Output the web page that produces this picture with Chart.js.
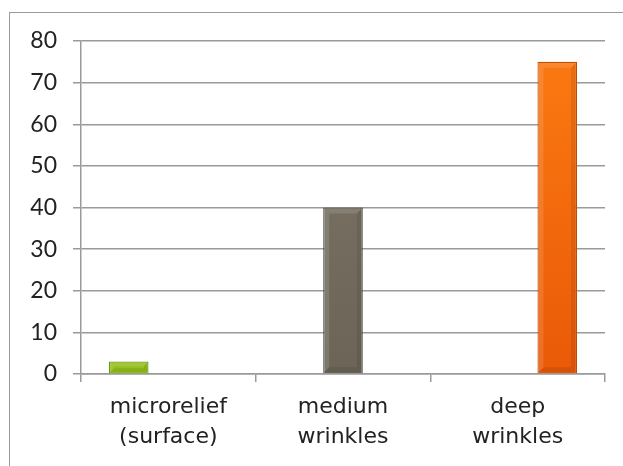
<!DOCTYPE html>
<html>
<head>
<meta charset="utf-8">
<script src="https://cdn.jsdelivr.net/npm/chart.js@4/dist/chart.umd.min.js"></script>
<style>
  html, body { margin: 0; padding: 0; background: #fff; }
  #frame {
    position: absolute; left: 9px; top: 12px; width: 640px; height: 480px;
    border-left: 1.5px solid #9a9a9a; border-top: 1.5px solid #9a9a9a;
  }
  #wrap { position: absolute; left: 0; top: 0; width: 623px; height: 466px; }
</style>
</head>
<body>
<div id="frame"></div>
<div id="wrap"><canvas id="wrinkleChart"></canvas></div>
<script>
  // values
  var categories = [["microrelief", "(surface)"], ["medium", "wrinkles"], ["deep", "wrinkles"]];
  var microrelief = [3, null, null];
  var medium = [null, 40, null];
  var deep = [null, null, 75];
  var yTicks = [0, 10, 20, 30, 40, 50, 60, 70, 80];

  function vgrad(top, bottom) {
    return function (c) {
      var area = c.chart.chartArea;
      if (!area) return bottom;
      var g = c.chart.ctx.createLinearGradient(0, area.top, 0, area.bottom);
      g.addColorStop(0, top);
      g.addColorStop(1, bottom);
      return g;
    };
  }

  // soft bevel like the office-style bars
  var bevel = {
    id: 'bevel',
    afterDatasetsDraw: function (chart) {
      var c = chart.ctx;
      chart.data.datasets.forEach(function (ds, i) {
        chart.getDatasetMeta(i).data.forEach(function (bar, j) {
          if (ds.data[j] == null) return;
          var p = bar.getProps(['x', 'y', 'base', 'width'], true);
          var l = p.x - p.width / 2, r = p.x + p.width / 2, t = p.y, b = p.base;
          var k = Math.min(5, (b - t) / 3);
          c.save();
          c.fillStyle = 'rgba(255,255,255,0.12)';
          c.beginPath();
          c.moveTo(l + 1, t + 1); c.lineTo(r - 1, t + 1); c.lineTo(r - 1 - k, t + 1 + k);
          c.lineTo(l + 1 + k, t + 1 + k); c.lineTo(l + 1 + k, b - 1 - k); c.lineTo(l + 1, b - 1);
          c.closePath(); c.fill();
          c.fillStyle = 'rgba(0,0,0,0.08)';
          c.beginPath();
          c.moveTo(r - 1, t + 1); c.lineTo(r - 1, b - 1); c.lineTo(l + 1, b - 1);
          c.lineTo(l + 1 + k, b - 1 - k); c.lineTo(r - 1 - k, b - 1 - k); c.lineTo(r - 1 - k, t + 1 + k);
          c.closePath(); c.fill();
          c.restore();
        });
      });
    }
  };

  var ctx = "wrinkleChart";

  var dataObj = {
    labels: categories,
    datasets: [
      {
        label: "microrelief",
        data: microrelief,
        backgroundColor: "#93c01a",
        borderColor: "#6f9410",
        borderWidth: 1.2
      },
      {
        label: "medium",
        data: medium,
        backgroundColor: vgrad("#7d7669", "#6b6457"),
        borderColor: "#4e4940",
        borderWidth: 1.2
      },
      {
        label: "deep",
        data: deep,
        backgroundColor: vgrad("#fb7a12", "#ea5a08"),
        borderColor: "#c24b05",
        borderWidth: 1.2
      }
    ]
  };

  var wrinkleChart = new Chart(ctx, {
    type: 'bar',
    data: dataObj,
    plugins: [bevel],
    options: {
      responsive: true,
      maintainAspectRatio: false,
      animation: false,
      layout: { padding: { left: 18, right: 18, top: 41, bottom: 0 } },
      plugins: {
        legend: { display: false },
        tooltip: { enabled: false }
      },
      datasets: {
        bar: { barPercentage: 1.0, categoryPercentage: 0.68 }
      },
      scales: {
        x: {
          offset: true,
          grid: { offset: true, drawOnChartArea: false, drawTicks: true, tickLength: 8, color: "#9a9a9a", lineWidth: 1.5 },
          border: { color: "#9a9a9a", width: 1.5 },
          ticks: {
            color: "#222",
            padding: 11,
            maxRotation: 0,
            font: { family: "'DejaVu Sans', sans-serif", size: 22, lineHeight: 1.33 }
          },
          afterFit: function (s) { s.height = 92; }
        },
        y: {
          min: 0,
          max: 80,
          afterBuildTicks: function (s) {
            s.ticks = yTicks.map(function (v) { return { value: v }; });
          },
          grid: { color: "#9a9a9a", lineWidth: 1.5, tickLength: 8 },
          border: { color: "#9a9a9a", width: 1.5 },
          ticks: {
            color: "#222",
            padding: 16,
            font: { family: "Lato, sans-serif", size: 23 }
          },
          afterFit: function (s) { s.width = 63; }
        }
      }
    }
  });
</script>
</body>
</html>
